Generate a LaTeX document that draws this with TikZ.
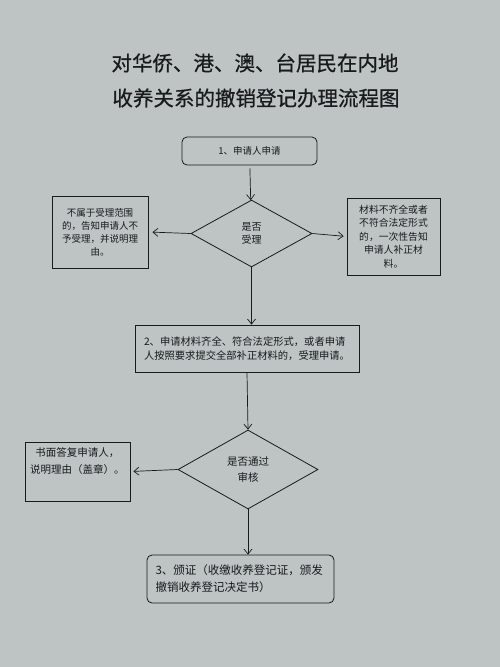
\documentclass[tikz,border=0pt]{standalone}
\usepackage{fontspec}
\usepackage{xcolor}
\setmainfont{Noto Sans CJK SC}
\newfontfamily\titlefont{Noto Sans CJK SC}[FakeBold=0.6]
\usetikzlibrary{shapes.geometric,arrows.meta}
\definecolor{paper}{RGB}{190,195,196}
\definecolor{ink}{RGB}{24,26,28}

\begin{document}
\begin{tikzpicture}[x=1pt,y=-1pt,
  box/.style={draw=ink,line width=0.8pt,inner sep=0pt,text=ink},
  roundbox/.style={box,rounded corners=5pt},
  choice/.style={draw=ink,line width=0.8pt,diamond,inner sep=0pt,text=ink},
  flow/.style={-{Straight Barb[length=5pt,width=8pt]},draw=ink,line width=0.7pt}]
\fill[paper] (0,0) rectangle (500,667);
\useasboundingbox (0,0) rectangle (500,667);

% title
\node[text=ink,font=\titlefont\fontsize{20.5}{24}\selectfont] (title1) at (255,63) {对华侨、港、澳、台居民在内地};
\node[text=ink,font=\titlefont\fontsize{20.5}{24}\selectfont] (title2) at (256,98) {收养关系的撤销登记办理流程图};

% first step
\node[roundbox,minimum width=135,minimum height=28,font=\fontsize{9.5}{12}\selectfont] (apply) at (249.5,151) {1、申请人申请};

\node[choice,minimum width=121,minimum height=67,align=center,font=\fontsize{10}{12.5}\selectfont] (accept) at (251.5,233.5) {是否\\受理};

\node[box,minimum width=96,minimum height=72,align=center,font=\fontsize{9.5}{13}\selectfont] (reject) at (100,232) {不属于受理范围\\的，告知申请人不\\予受理，并说明理\\由。};

\node[box,minimum width=93,minimum height=77,align=center,font=\fontsize{9.8}{13.5}\selectfont] (notice) at (393.5,236.5) {材料不齐全或者\\不符合法定形式\\的，一次性告知\\申请人补正材\\料。};

\draw[flow,shorten <=3pt] (apply) -- (accept);
\draw[flow,shorten >=4pt] (accept.west) -- (reject.east);
\draw[flow,shorten >=3pt] (accept.east) -- (notice.west);

% second step
\node[box,minimum width=224,minimum height=47,text width=206,align=left,font=\fontsize{10.3}{14}\selectfont] (accepted) at (247,348.5) {2、申请材料齐全、符合法定形式，或者申请\\人按照要求提交全部补正材料的，受理申请。};

\draw[flow] (accept.south) -- (accept.south |- accepted.north);

\node[choice,minimum width=140,minimum height=79,align=center,font=\fontsize{10.5}{16}\selectfont] (review) at (248,469.5) {是否通过\\审核};

\node[box,minimum width=105,minimum height=59,align=center,font=\fontsize{10.5}{17}\selectfont] (reply) at (77.5,471.5) {书面答复申请人，\\说明理由（盖章）。\\\strut};

\draw[flow] (accepted.south) -- (review.north);
\draw[flow,shorten >=3pt] (review.west) -- (reply.east);

% third step
\node[roundbox,minimum width=187,minimum height=48,text width=170,align=left,font=\fontsize{11.5}{17}\selectfont] (issue) at (240.5,579) {3、颁证（收缴收养登记证，颁发\\撤销收养登记决定书）};

\draw[flow] (review.south) -- (review.south |- issue.north);
\end{tikzpicture}
\end{document}
